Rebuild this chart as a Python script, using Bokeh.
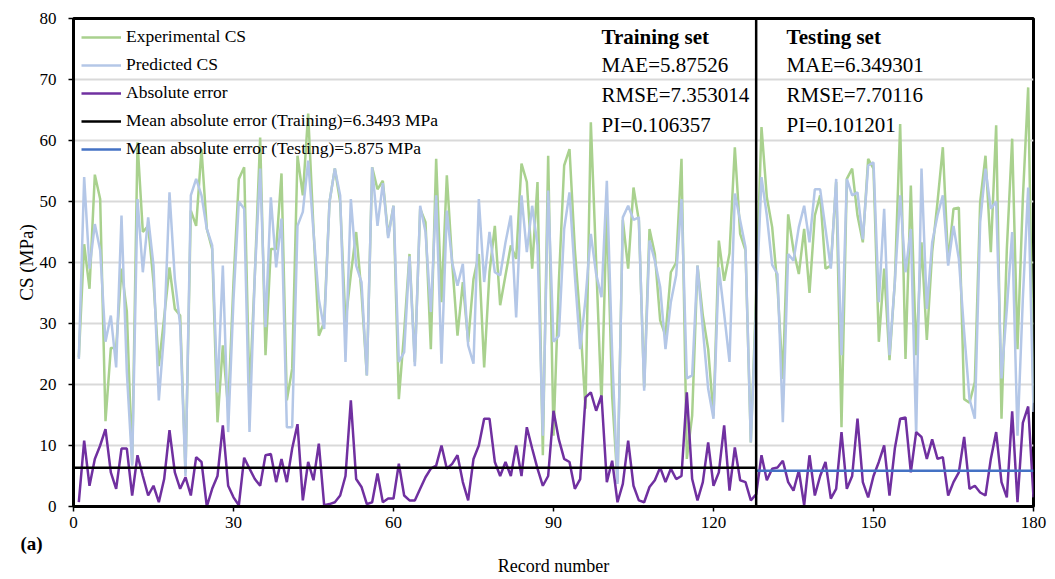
from bokeh.plotting import figure
from bokeh.models import Range1d, FixedTicker, Label, Span, Title
from bokeh.embed import file_html
from bokeh.resources import INLINE

record = list(range(1, 181))

experimental_cs = [
    24.5, 43, 35.7, 54.4, 50.4, 14, 26, 26, 39, 32,
    7, 59.7, 45, 46, 36.8, 23, 31, 39.2, 32.4, 31.3,
    5.6, 48.5, 46, 58.6, 45.5, 42.2, 13.8, 26.4, 16, 36.8,
    53.7, 55.6, 18.2, 38, 60.5, 24.8, 42.2, 42.2, 54.6, 17.4,
    22.6, 57.5, 51, 64.4, 45.5, 28, 30.2, 49.9, 55.4, 49.9,
    30.2, 38, 45, 35, 21.5, 55.6, 52, 53.4, 44.4, 49.3,
    17.6, 28.6, 41.4, 23.7, 48.8, 46.6, 25.8, 57, 33.5, 54.3,
    40, 28, 36.8, 27, 37.3, 41.4, 22.8, 38.4, 46, 33,
    37.9, 42.8, 40.6, 56.2, 53.2, 39, 53.2, 8.4, 57.5, 11.6,
    36.8, 55.9, 58.6, 42.2, 30.5, 16, 63, 40, 16.8, 49,
    18, 4, 47, 39, 52.3, 46.9, 19.5, 45.5, 41.4, 30.5,
    28, 38.4, 40, 57, 7.8, 14.9, 39.5, 31.3, 25.8, 14.9,
    43.6, 37, 41.5, 58.9, 44.7, 42, 10.5, 35, 62.2, 50.7,
    45.8, 36, 20.9, 47.9, 42, 38.1, 45.5, 35, 47.7, 51,
    39, 39.5, 53.2, 13, 53.7, 55.4, 47.7, 43.3, 57, 55.4,
    27, 39, 24, 36.8, 62.7, 24.2, 52.6, 24.8, 43.3, 27.3,
    41.7, 49.9, 58.9, 40, 48.8, 49, 17.6, 17, 20.4, 49.9,
    57.5, 41.7, 62.5, 14.4, 42.2, 60.3, 25.8, 50.4, 68.7, 17,
]

predicted_cs = [
    24.2, 54, 39, 46.3, 42, 27, 31.3, 22.8, 47.7, 22,
    6.7, 50.4, 38.4, 47.4, 39.5, 17.4, 28.6, 51.5, 37.3, 29.7,
    5, 51, 53.7, 51, 45.5, 42.8, 18.7, 39.5, 12.2, 34,
    50, 48.8, 12.2, 38, 55.4, 29.4, 50.7, 39.2, 47.2, 13,
    13, 46, 48.3, 56.7, 45, 34, 29.1, 49.9, 55.4, 51,
    23.7, 50.4, 39.5, 36.8, 21.5, 55.6, 46, 53, 44, 49.3,
    23.7, 25.3, 41, 23, 49.3, 45, 31.9, 51, 23.4, 48.5,
    40, 36.2, 39.8, 26.4, 23.4, 50.4, 36.8, 45, 38.4, 37.9,
    43.3, 47.7, 31, 51, 41.7, 49.3, 42.8, 11.6, 51.8, 27,
    28, 45.5, 51.5, 37.9, 25.8, 34, 44.7, 38.1, 34.3, 53.4,
    25, 3.7, 47.4, 49.3, 47, 47.4, 19, 43.6, 40.3, 36,
    25.8, 33.5, 37.9, 50.4, 21, 21.5, 39.5, 29.1, 19.3, 14.4,
    39.2, 31.6, 23.7, 51.3, 46.9, 42.5, 10.5, 33, 54, 47.7,
    39.6, 38.1, 13.8, 41.4, 40.3, 45.8, 49.3, 43.3, 52, 52,
    45.5, 39, 53.7, 24.8, 53.7, 51, 51.5, 43.8, 55.9, 56.4,
    33.5, 48.8, 24.8, 36.8, 51, 38.4, 45.5, 11.6, 55.4, 32.4,
    43.3, 47.7, 51, 39.5, 46, 40.6, 28.6, 17.6, 14.4, 46.6,
    55.4, 48.8, 50, 21, 32.4, 45, 11.6, 34, 52.3, 15.5,
]

absolute_error = [
    0.7, 10.8, 3.4, 7.8, 10, 12.7, 5.6, 2.9, 9.5, 9.5,
    1.8, 8.4, 5, 1.8, 3.4, 0.7, 4.5, 12.5, 5.6, 2.9,
    4.8, 1.8, 8.1, 7.3, 0, 2.9, 5, 13.3, 3.4, 1.5,
    0.2, 8, 6.2, 4.5, 3.4, 8.4, 8.6, 4, 7.8, 4,
    9.5, 13.5, 1, 7.3, 4.3, 10.3, 0.2, 0.4, 0.7, 1.8,
    5, 17.4, 4.5, 3.2, 0.4, 0.7, 5.4, 0.7, 1.3, 1.3,
    7, 1.8, 1, 1, 2.9, 4.8, 6.2, 6.7, 10, 6.2,
    7, 8.4, 4, 1, 7.8, 10, 14.4, 14.4, 7.3, 5,
    7.3, 5, 10, 5, 13, 9.5, 6.2, 3.4, 5, 15.7,
    11, 7.8, 7.3, 2.9, 4.5, 17.9, 18.7, 15.7, 18.2, 4,
    7.5, 0.7, 3.7, 10.8, 3.4, 1, 0.7, 3.2, 4.3, 6.4,
    4, 6.2, 4.5, 5, 18.7, 4.5, 1, 4, 10.5, 3.4,
    5.6, 13.3, 2.6, 9.7, 4.3, 4, 1, 2, 8.4, 4.3,
    6.2, 6.4, 7.5, 4, 2.6, 5.9, 0.2, 8.4, 1.8, 5,
    7.3, 1.3, 2.9, 12.2, 2.9, 5, 14.4, 4, 1.5, 5,
    7.3, 10, 1.8, 9.5, 14.4, 14.6, 5.6, 12.2, 11.4, 7.8,
    11, 7.8, 8.1, 1.8, 4, 5.6, 11.4, 2.9, 3.4, 2.3,
    1.8, 7.8, 12.2, 4, 1.5, 15.6, 0.7, 13.7, 16.4, 1.5,
]

mae_training_line = 6.3493
mae_testing_line = 5.875
split_record = 128
x_start, x_end = 0, 180
x_ticks = [0, 30, 60, 90, 120, 150, 180]
y_ticks = [0, 10, 20, 30, 40, 50, 60, 70, 80]

training_stats = ["Training set", "MAE=5.87526", "RMSE=7.353014", "PI=0.106357"]
testing_stats = ["Testing set", "MAE=6.349301", "RMSE=7.70116", "PI=0.101201"]

FONT = "Liberation Serif"

p = figure(width=1052, height=578, output_backend="svg", toolbar_location=None,
           x_range=Range1d(0, 180), y_range=Range1d(0, 80),
           min_border_left=73, min_border_right=19, min_border_top=18, min_border_bottom=72)

p.outline_line_color = "black"
p.outline_line_width = 3
p.xgrid.visible = False
p.ygrid.grid_line_color = "#d9d9d9"
p.ygrid.grid_line_width = 2
p.ygrid.ticker = FixedTicker(ticks=y_ticks)

for ax in (p.xaxis, p.yaxis):
    ax.axis_line_color = "black"
    ax.axis_line_width = 3
    ax.major_tick_line_color = "black"
    ax.major_tick_line_width = 1.5
    ax.major_tick_out = 5
    ax.major_tick_in = 0
    ax.minor_tick_line_color = None
    ax.major_label_text_font = FONT
    ax.major_label_text_font_size = "17px"
    ax.major_label_text_color = "black"
    ax.axis_label_text_font = FONT
    ax.axis_label_text_font_style = "normal"
    ax.axis_label_text_color = "black"

p.xaxis.ticker = FixedTicker(ticks=x_ticks)
p.yaxis.ticker = FixedTicker(ticks=y_ticks)
p.yaxis.axis_label = "CS (MPa)"
p.yaxis.axis_label_text_font_size = "19px"
p.xaxis.major_label_standoff = 5
p.yaxis.major_label_standoff = 12
p.yaxis.axis_label_standoff = 0

# panel tag and x-axis title stacked below the x axis
p.add_layout(Title(text="(a)", align="left", offset=-53, standoff=0,
                   text_font=FONT, text_font_size="19px", text_font_style="bold",
                   text_color="black"), "below")
p.add_layout(Title(text="Record number", align="center", standoff=0,
                   text_font=FONT, text_font_size="18px", text_font_style="normal",
                   text_color="black"), "below")

p.line(record, experimental_cs, line_color="#A9D18E", line_width=2.5, legend_label="Experimental CS")
p.line(record, predicted_cs, line_color="#B4C7E7", line_width=2.5, legend_label="Predicted CS")
p.line(record, absolute_error, line_color="#7030A0", line_width=2.5, legend_label="Absolute error")
p.line([x_start, split_record], [mae_training_line, mae_training_line], line_color="black", line_width=2.5,
       legend_label="Mean absolute error (Training)=6.3493 MPa")
p.line([split_record, x_end], [mae_testing_line, mae_testing_line], line_color="#4472C4", line_width=2.5,
       legend_label="Mean absolute error (Testing)=5.875 MPa")

p.add_layout(Span(location=split_record, dimension="height", line_color="black", line_width=2.5))

leg = p.legend[0]
leg.location = "top_left"
leg.background_fill_alpha = 0
leg.border_line_alpha = 0
leg.label_text_font = FONT
leg.label_text_font_size = "17.5px"
leg.label_text_color = "black"
leg.glyph_width = 40
leg.glyph_height = 18
leg.label_height = 18
leg.spacing = 7
leg.padding = 8
leg.margin = 0
leg.label_standoff = 5

stat_y = [77.0, 72.4, 67.4, 62.5]
for xs, lines in ((99.0, training_stats), (133.7, testing_stats)):
    for k, (txt, yy) in enumerate(zip(lines, stat_y)):
        p.add_layout(Label(x=xs, y=yy, text=txt, text_font=FONT, text_font_size="21px",
                           text_font_style="bold" if k == 0 else "normal",
                           text_color="black", text_baseline="middle", text_align="left"))

open("out.html", "w").write(file_html(p, INLINE))
